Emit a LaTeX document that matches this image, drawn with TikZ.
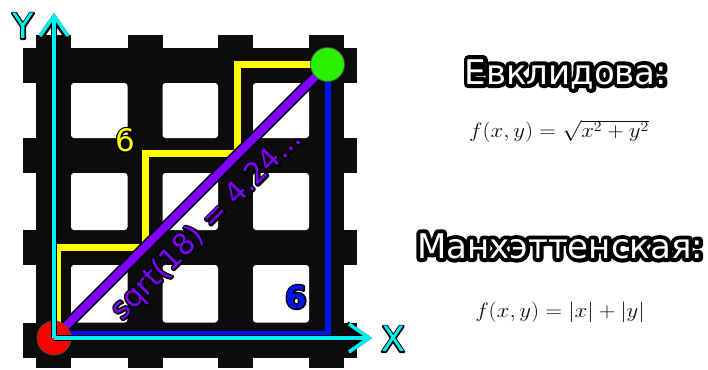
\documentclass[tikz,border=0pt]{standalone}
\usepackage[no-math]{fontspec}
\usepackage{graphicx}
\usetikzlibrary{arrows.meta,calc}
\newfontfamily\dejavu{DejaVu Sans}
% outlined text: black stroke behind the filled glyphs
\newcommand\outl[2]{\leavevmode\rlap{\special{pdf:literal #1 w 1 j 1 J 1 Tr 0 0 0 RG}#2\special{pdf:literal 0 Tr}}#2}
\definecolor{gridblack}{RGB}{12,12,12}
\definecolor{cyanax}{RGB}{0,240,240}
\definecolor{purp}{RGB}{127,0,255}
\definecolor{grn}{RGB}{40,240,0}
\definecolor{blu}{RGB}{0,20,240}
\definecolor{yel}{RGB}{255,255,0}
\definecolor{fml}{RGB}{10,10,20}
\tikzset{
  street/.style={fill=gridblack},
  block/.style={fill=white, rounded corners=3pt},
  yelpath/.style={draw=yel, line width=7pt},
  blupath/.style={draw=blu, line width=6pt},
  diag/.style={line width=8pt, draw=purp},
  diagout/.style={line width=11pt, draw=black},
  dot/.style={circle, draw=black!70, line width=0.8pt, minimum size=34pt, inner sep=0pt},
  axisout/.style={draw=black, line width=6pt, -{Straight Barb[length=20pt,width=28pt]}},
  axis/.style={draw=cyanax, line width=3.5pt, -{Straight Barb[length=20pt,width=28pt]}},
  axlabel/.style={font=\dejavu\fontsize{35}{35}\selectfont, text=cyanax, inner sep=0pt},
  title/.style={font=\dejavu\fontsize{34}{34}\selectfont, text=white, inner sep=0pt},
  formula/.style={text=fml, inner sep=0pt, font=\fontsize{20}{24}\selectfont},
  numlabel/.style={font=\dejavu\fontsize{31}{31}\selectfont, inner sep=0pt}
}
\begin{document}
\begin{tikzpicture}[x=1pt,y=-1pt]
\useasboundingbox (0,0) rectangle (708,369);
\fill[white] (0,0) rectangle (708,369);
% grid
\fill[street] (36,48) rectangle (344,357.5);
\foreach \cx in {53.5,145,235.5,326.5}
  \fill[street] (\cx-17.5,35) rectangle (\cx+17.5,368);
\foreach \cy in {65.5,155.5,247.5,340}
  \fill[street] (23,\cy-17.5) rectangle (357,\cy+17.5);
\foreach \xa/\xb in {71/127.5,162.5/218,253/309}
  \foreach \ya/\yb in {83/138,173/230,265/322.5}
    \fill[block] (\xa,\ya) rectangle (\xb,\yb);
% key points
\coordinate (O) at (54,338);
\coordinate (G) at (327.5,64.5);
\coordinate (YT) at (54,13);
\coordinate (XT) at (372,338);
% manhattan paths
\draw[yelpath] ([xshift=3pt]O) |- (145,247.5) |- (237,153) |- (G);
\draw[blupath] ([yshift=4pt]O) -| (G);
% euclidean
\draw[diagout] (O) -- (G);
\draw[diag] (O) -- (G);
% end points
\node[dot, fill=red] (o) at (O) {};
\node[dot, fill=grn] (g) at (G) {};
% axes
\draw[axisout] (O) -- (YT);
\draw[axisout] (O) -- (XT);
\draw[axis] (O) -- (YT);
\draw[axis] (O) -- (XT);
\node[axlabel] (ylab) at (23,26) {\outl{2.6}{Y}};
\node[axlabel] (xlab) at (393,339) {\outl{2.6}{X}};
% labels
\node[numlabel, text=yel] (six1) at (125,140) {\outl{3}{6}};
\node[numlabel, text=blu, font=\dejavu\bfseries\fontsize{31}{31}\selectfont] (six2) at (296,297) {\outl{3}{6}};
\node[numlabel, text=purp, rotate=45, font=\dejavu\fontsize{29.5}{29.5}\selectfont] (dist) at (207,225) {\outl{3.4}{sqrt(18) = 4.24...}};
% right side
\node[title] (t1) at (566,74) {\outl{8}{Евклидова:}};
\node[formula] (f1) at (559,131) {\scalebox{1.1}[1]{$f(x,y)=\sqrt{x^2+y^2}$}};
\node[title] (t2) at (560,246) {\outl{8}{Манхэттенская:}};
\node[formula] (f2) at (560,312) {\scalebox{1.1}[1]{$f(x,y)=|x|+|y|$}};
\end{tikzpicture}
\end{document}
